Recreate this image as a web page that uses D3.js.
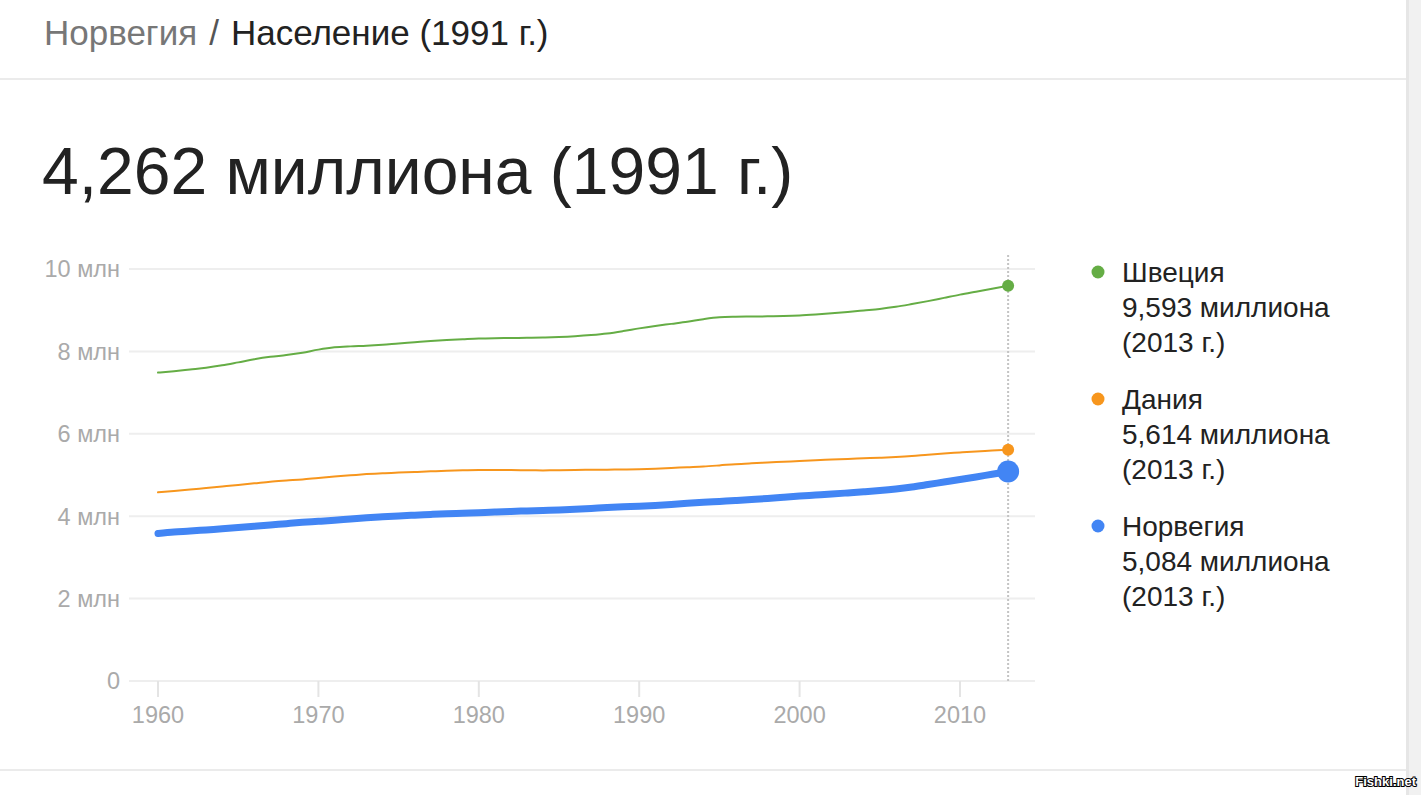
<!DOCTYPE html>
<html>
<head>
<meta charset="utf-8">
<script src="https://cdn.jsdelivr.net/npm/d3@7"></script>
<style>
  html, body { margin: 0; padding: 0; background: #fff; }
  svg { display: block; font-family: "Liberation Sans", Arial, sans-serif; }
</style>
</head>
<body>
<svg id="chart" width="1421" height="795"></svg>
<script>
// ---- data (millions) ----
const years = d3.range(1960, 2014);
const sweden = [7.485,7.520,7.562,7.604,7.662,7.734,7.808,7.868,7.912,7.968,
  8.043,8.098,8.122,8.137,8.161,8.193,8.222,8.252,8.276,8.294,
  8.311,8.320,8.325,8.329,8.337,8.350,8.370,8.398,8.436,8.493,
  8.559,8.617,8.668,8.719,8.781,8.827,8.841,8.846,8.851,8.858,
  8.872,8.896,8.925,8.958,8.994,9.030,9.081,9.148,9.220,9.299,
  9.378,9.449,9.519,9.593];
const denmark = [4.580,4.612,4.647,4.684,4.720,4.757,4.797,4.839,4.867,4.892,
  4.929,4.963,4.992,5.022,5.045,5.060,5.073,5.088,5.104,5.117,
  5.123,5.122,5.119,5.114,5.112,5.114,5.121,5.127,5.130,5.133,
  5.141,5.154,5.171,5.189,5.206,5.233,5.263,5.285,5.304,5.322,
  5.340,5.359,5.375,5.391,5.405,5.419,5.437,5.461,5.494,5.523,
  5.547,5.571,5.592,5.614];
const norway = [3.582,3.615,3.639,3.667,3.694,3.723,3.754,3.786,3.819,3.851,
  3.876,3.903,3.933,3.961,3.985,4.007,4.026,4.043,4.060,4.073,
  4.086,4.100,4.115,4.128,4.140,4.153,4.167,4.187,4.209,4.227,
  4.241,4.262,4.286,4.312,4.337,4.359,4.381,4.405,4.431,4.462,
  4.491,4.514,4.538,4.565,4.592,4.623,4.661,4.709,4.768,4.829,
  4.889,4.953,5.019,5.084];
const seriesNames = ["Швеция", "Дания", "Норвегия"];
const seriesLabels = ["9,593 миллиона", "5,614 миллиона", "5,084 миллиона"];
const seriesDate = "(2013 г.)";
const yTicks = [0, 2, 4, 6, 8, 10];
const xTicks = [1960, 1970, 1980, 1990, 2000, 2010];
const crumbParent = "Норвегия";
const crumbCurrent = "Население (1991 г.)";
const headline = "4,262 миллиона (1991 г.)";

const colors = ["#65ad45", "#f7961d", "#4285f4"];
const widths = [2, 2, 7];
const radii = [6, 6, 11];
const allSeries = [sweden, denmark, norway];

const svg = d3.select("#chart");

// page frame
svg.append("rect").attr("x", 1406).attr("y", 0).attr("width", 15).attr("height", 795).attr("fill", "#f1f1f1");
svg.append("rect").attr("x", 1406).attr("y", 0).attr("width", 3).attr("height", 795).attr("fill", "#e6e6e6");
svg.append("rect").attr("x", 0).attr("y", 78).attr("width", 1406).attr("height", 2).attr("fill", "#ebebeb");
svg.append("rect").attr("x", 0).attr("y", 769).attr("width", 1406).attr("height", 2).attr("fill", "#ebebeb");

// breadcrumb
const crumb = svg.append("text").attr("x", 44).attr("y", 45).attr("font-size", 35);
crumb.append("tspan").attr("fill", "#777").text(crumbParent);
crumb.append("tspan").attr("fill", "#555").attr("dx", 12).text("/");
crumb.append("tspan").attr("fill", "#222").attr("dx", 12).text(crumbCurrent);

// headline
svg.append("text").attr("x", 42).attr("y", 194).attr("font-size", 66).attr("fill", "#222").text(headline);

// scales
const x = d3.scaleLinear().domain([1960, 2010]).range([158, 960]);
const y = d3.scaleLinear().domain([0, 10]).range([681, 269]);

// gridlines
const g = svg.append("g");
g.selectAll("line.grid").data(yTicks).join("line")
  .attr("x1", 129).attr("x2", 1035)
  .attr("y1", d => y(d)).attr("y2", d => y(d))
  .attr("stroke", "#eeeeee").attr("stroke-width", 2);

// y labels
g.selectAll("text.ylab").data(yTicks).join("text")
  .attr("x", 120).attr("y", d => y(d)).attr("dy", "0.36em")
  .attr("text-anchor", "end").attr("font-size", 23.5).attr("fill", "#aaa")
  .text(d => d === 0 ? "0" : d + " млн");

// x ticks & labels
g.selectAll("line.xt").data(xTicks).join("line")
  .attr("x1", d => x(d)).attr("x2", d => x(d))
  .attr("y1", 681).attr("y2", 697)
  .attr("stroke", "#e4e4e4").attr("stroke-width", 2);
g.selectAll("text.xlab").data(xTicks).join("text")
  .attr("x", d => x(d)).attr("y", 723)
  .attr("text-anchor", "middle").attr("font-size", 23.5).attr("fill", "#aaa")
  .text(d => d);

// dotted vertical line at last year
svg.append("line")
  .attr("x1", x(2013)).attr("x2", x(2013))
  .attr("y1", 255).attr("y2", 681)
  .attr("stroke", "#c4c4c4").attr("stroke-width", 2).attr("stroke-dasharray", "2,2");

// lines
const line = d3.line().x((d, i) => x(years[i])).y(d => y(d)).curve(d3.curveMonotoneX);
allSeries.forEach((s, k) => {
  svg.append("path").datum(s)
    .attr("d", line).attr("fill", "none")
    .attr("stroke", colors[k]).attr("stroke-width", widths[k])
    .attr("stroke-linecap", "round").attr("stroke-linejoin", "round");
});
allSeries.forEach((s, k) => {
  svg.append("circle")
    .attr("cx", x(years[years.length - 1])).attr("cy", y(s[s.length - 1]))
    .attr("r", radii[k]).attr("fill", colors[k]);
});

// legend
const lg = svg.append("g");
seriesNames.forEach((name, k) => {
  const top = 272 + k * 127;
  lg.append("circle").attr("cx", 1098).attr("cy", top).attr("r", 6.5).attr("fill", colors[k]);
  const t = lg.append("text").attr("font-size", 28).attr("fill", "#222");
  [name, seriesLabels[k], seriesDate].forEach((line, j) => {
    t.append("tspan").attr("x", 1122).attr("y", top + 10 + j * 35).text(line);
  });
});

// watermark
svg.append("text").attr("x", 1416).attr("y", 786).attr("text-anchor", "end")
  .attr("font-size", 13).attr("font-weight", "bold").attr("fill", "#fff")
  .attr("stroke", "#000").attr("stroke-width", 2).attr("paint-order", "stroke")
  .text("Fishki.net");
</script>
</body>
</html>
